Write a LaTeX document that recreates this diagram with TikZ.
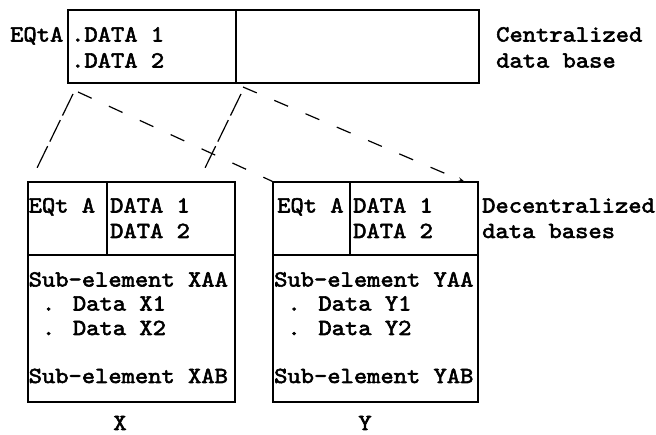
\documentclass[tikz,border=0pt]{standalone}
\usepackage{fontspec}
\newfontfamily\tw{lmmono10-regular.otf}[FakeStretch=1.10, FakeBold=2.5]
\usetikzlibrary{arrows.meta}

\tikzset{
  frame/.style={draw, line width=1.2pt, inner sep=0pt, minimum width=#1},
  rule/.style={line width=1.2pt},
  txt/.style={inner sep=0pt, font=\tw\fontsize{23}{26}\selectfont, anchor=base west},
  txtr/.style={txt, anchor=base east},
  txtc/.style={txt, anchor=base},
  longdash/.style={line width=1.2pt, dash pattern=on 24pt off 5pt},
  shortdash/.style={line width=1.2pt, dash pattern=on 15pt off 19pt},
}
\newcommand{\cell}{\phantom{.}}

\begin{document}
\begin{tikzpicture}[x=1pt, y=-1pt]
\useasboundingbox (0,0) rectangle (656,435);

% centralized record
\node[frame=411pt, minimum height=73pt] (central) at (273.5,46.5) {};
\draw[rule] (236,10) -- (236,83);
\node[txtr] (cEq) at (63.5,41.5) {EQtA};
\node[txt] (cD1) at (71,41.5) {.DATA 1};
\node[txt] (cD2) at (71,67.5) {.DATA 2};
\node[txt] (cLab1) at (496,41.5) {Centralized};
\node[txt] (cLab2) at (496,67.5) {data base};

% decentralized record X
\node[frame=207pt, minimum height=220pt] (boxX) at (131.5,292) {};
\draw[rule] (28,255) -- (235,255);
\draw[rule] (107,182) -- (107,255);
\node[txt] (xEq) at (28.5,212.5) {EQt A};
\node[txt] (xD1) at (110,212.5) {DATA 1};
\node[txt] (xD2) at (110,238) {DATA 2};
\node[txt] (xS1) at (28.5,286.5) {Sub-element XAA};
\node[txt] (xS2) at (28.5,310.5) {\cell. Data X1};
\node[txt] (xS3) at (28.5,335) {\cell. Data X2};
\node[txt] (xS4) at (28.5,383) {Sub-element XAB};
\node[txtc] (xName) at (120,430) {X};

% decentralized record Y
\node[frame=205pt, minimum height=220pt] (boxY) at (375.5,292) {};
\draw[rule] (273,255) -- (478,255);
\draw[rule] (350,182) -- (350,255);
\node[txt] (yEq) at (277,212.5) {EQt A};
\node[txt] (yD1) at (353,212.5) {DATA 1};
\node[txt] (yD2) at (353,238) {DATA 2};
\node[txt] (yS1) at (274,286.5) {Sub-element YAA};
\node[txt] (yS2) at (274,310.5) {\cell. Data Y1};
\node[txt] (yS3) at (274,335) {\cell. Data Y2};
\node[txt] (yS4) at (274,383) {Sub-element YAB};
\node[txtc] (yName) at (365,430) {Y};
\node[txt] (dLab1) at (482,212.5) {Decentralized};
\node[txt] (dLab2) at (482,238) {data bases};

% end points of the distribution lines
\coordinate (aTop) at (73,94);
\coordinate (aEnd) at (37,168);
\coordinate (bTop) at (78,92);
\coordinate (bEnd) at (boxY.north west);
\coordinate (cTop) at (241,94);
\coordinate (cEnd) at (205,168);
\coordinate (dTop) at (243,87);
\coordinate (dEnd) at (465,182);

\draw[longdash] (aTop) -- (aEnd);
\draw[shortdash] (bTop) -- (bEnd);
\draw[longdash] (cTop) -- (cEnd);
\draw[shortdash, -{Stealth[length=7pt,width=4pt]}] (dTop) -- (dEnd);
\end{tikzpicture}
\end{document}
